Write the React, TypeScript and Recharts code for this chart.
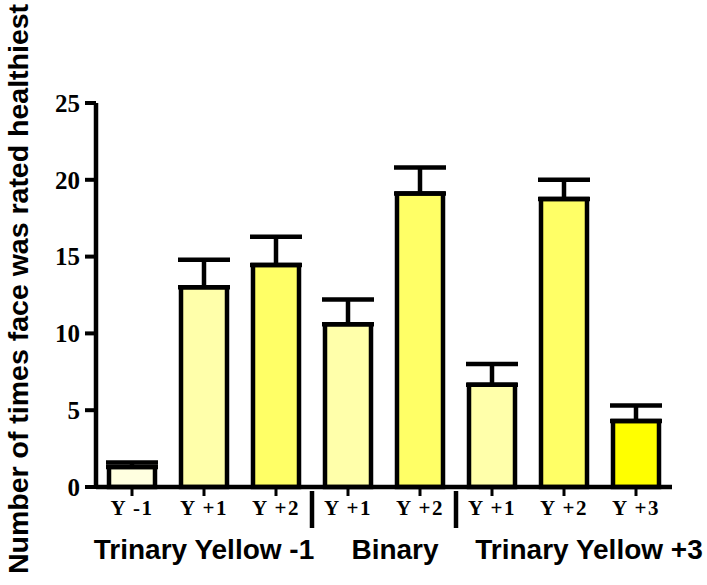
import React from 'react';
import { BarChart, Bar, XAxis, YAxis, ErrorBar, Cell } from 'recharts';

const categories = ['Y -1', 'Y +1', 'Y +2', 'Y +1', 'Y +2', 'Y +1', 'Y +2', 'Y +3'];
const means = [1.3, 13.0, 14.45, 10.6, 19.1, 6.65, 18.75, 4.3];
const errors = [0.3, 1.8, 1.85, 1.6, 1.7, 1.35, 1.25, 1.0];
const colors = ['#FFFFE0', '#FFFFAA', '#FFFF66', '#FFFFAA', '#FFFF66', '#FFFFAA', '#FFFF66', '#FFFF00'];
const yTicks = [0, 5, 10, 15, 20, 25];
const groupLabels = ['Trinary Yellow -1', 'Binary', 'Trinary Yellow +3'];
// tick index under which each group label sits, and ticks followed by a separator
const groupAt = [1, 4, 6];
const groupShift = [0, -25, 25];
const separatorsAfter = [2, 4];

const data = categories.map((c, i) => ({
  key: `${c}-${i}`,
  label: c,
  mean: means[i],
  err: [0, errors[i]],
}));

const HALF_BAND = 36;

const XTick = (props: any) => {
  const { x, y, index } = props;
  const g = groupAt.indexOf(index);
  return (
    <g>
      <text
        x={x}
        y={y + 17}
        textAnchor="middle"
        fontFamily="'Liberation Serif', 'Times New Roman', serif"
        fontWeight="bold"
        fontSize={21}
        letterSpacing={1.5}
        fill="#000"
      >
        {categories[index]}
      </text>
      {separatorsAfter.includes(index) && (
        <line x1={x + HALF_BAND} y1={y - 7} x2={x + HALF_BAND} y2={y + 30} stroke="#000" strokeWidth={4.5} />
      )}
      {g >= 0 && (
        <text
          x={x + groupShift[g]}
          y={y + 61}
          textAnchor="middle"
          fontFamily="'Liberation Sans', Arial, sans-serif"
          fontWeight="bold"
          fontSize={28}
          fill="#000"
        >
          {groupLabels[g]}
        </text>
      )}
    </g>
  );
};

const App = () => {
  return (
    <div style={{ position: 'absolute', left: 0, top: 0, width: 707, height: 585, background: '#fff' }}>
      <BarChart
        width={707}
        height={585}
        data={data}
        margin={{ top: 103, right: 35, left: 0, bottom: 8 }}
        barSize={46}
      >
        <XAxis
          dataKey="key"
          height={90}
          axisLine={{ stroke: '#000', strokeWidth: 4.5 }}
          tickLine={{ stroke: '#000', strokeWidth: 3 }}
          tickSize={9}
          tick={<XTick />}
          interval={0}
        />
        <YAxis
          width={96}
          domain={[0, 25]}
          ticks={yTicks}
          interval={0}
          axisLine={{ stroke: '#000', strokeWidth: 4.5 }}
          tickLine={{ stroke: '#000', strokeWidth: 4 }}
          tickSize={11}
          tick={{
            fill: '#000',
            fontSize: 25,
            fontWeight: 'bold',
            dx: -3,
            fontFamily: "'Liberation Serif', 'Times New Roman', serif",
          }}
          label={{
            value: 'Number of times face was rated healthiest',
            angle: -90,
            position: 'insideLeft',
            dx: 13,
            dy: -6,
            style: {
              textAnchor: 'middle',
              fill: '#000',
              fontSize: 28.5,
              fontWeight: 'bold',
              fontFamily: "'Liberation Sans', Arial, sans-serif",
            },
          }}
        />
        <Bar dataKey="mean" stroke="#000" strokeWidth={4.5} isAnimationActive={false}>
          {data.map((d, i) => (
            <Cell key={d.key} fill={colors[i]} />
          ))}
          <ErrorBar dataKey="err" width={26} stroke="#000" strokeWidth={4.5} direction="y" />
        </Bar>
      </BarChart>
    </div>
  );
};

export default App;
